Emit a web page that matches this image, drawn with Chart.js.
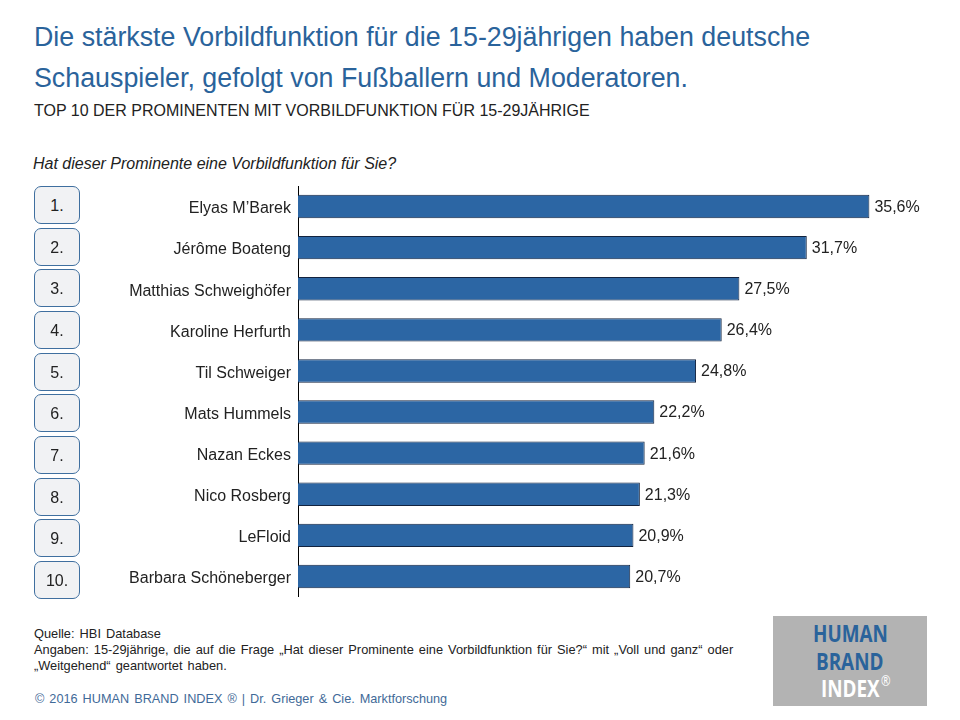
<!DOCTYPE html>
<html>
<head>
<meta charset="utf-8">
<script src="https://cdn.jsdelivr.net/npm/chart.js@4"></script>
<style>
  body { margin: 0; background: #fff; font-family: "Liberation Sans", sans-serif; }
  #page { position: relative; width: 960px; height: 720px; overflow: hidden; }
  #page div { position: absolute; white-space: nowrap; }
  #grafico { position: absolute; left: 0; top: 186px; }
  .titel { left: 34px; font-size: 26.8px; color: #2a639b; line-height: 30px; }
  .fuss { left: 34px; font-size: 12.8px; color: #222; line-height: 15px; word-spacing: 1.5px; }
  .rang { left: 34px; width: 44px; height: 36px; line-height: 37px; text-align: center; font-size: 16px; color: #222;
    background: #f1f2f4; border: 1px solid #3f6f9f; border-radius: 7px; }
  #logo { left: 773px; top: 616px; width: 154px; height: 90px; background: #b3b3b3; font-family: "Open Sans", sans-serif; font-weight: 700; font-size: 23px; }
  #logo div { line-height: 26px; transform: scaleX(0.82); transform-origin: left center; }
</style>
</head>
<body>
<div id="page">
  <div class="titel" style="top:22px">Die stärkste Vorbildfunktion für die 15-29jährigen haben deutsche</div>
  <div class="titel" style="top:63px">Schauspieler, gefolgt von Fußballern und Moderatoren.</div>
  <div style="left:34px;top:102px;font-size:16px;color:#222">TOP 10 DER PROMINENTEN  MIT VORBILDFUNKTION  FÜR 15-29JÄHRIGE</div>
  <div style="left:33px;top:155px;font-size:16px;font-style:italic;color:#222">Hat dieser Prominente eine Vorbildfunktion für Sie?</div>
  <canvas id="grafico" width="960" height="411"></canvas>
  <div class="fuss" style="top:626px">Quelle: HBI Database</div>
  <div class="fuss" style="top:642px">Angaben: 15-29jährige, die auf die Frage „Hat dieser Prominente eine Vorbildfunktion für Sie?“ mit „Voll und ganz“ oder</div>
  <div class="fuss" style="top:658px">„Weitgehend“ geantwortet haben.</div>
  <div style="left:35px;top:692px;font-size:12.7px;color:#3f6a98;word-spacing:1.5px">© 2016 HUMAN BRAND INDEX ® | Dr. Grieger &amp; Cie. Marktforschung</div>
  <div id="logo">
    <div style="left:40px;top:4px;color:#2a639b">HUMAN</div>
    <div style="left:43px;top:32px;color:#2a639b">BRAND</div>
    <div style="left:48px;top:59px;color:#fff">INDEX</div>
    <div style="left:108px;top:52px;color:#fff;font-size:14px;font-weight:400">®</div>
  </div>
</div>
<script>
// Werte
const namen = ['Elyas M’Barek', 'Jérôme Boateng', 'Matthias Schweighöfer', 'Karoline Herfurth', 'Til Schweiger',
  'Mats Hummels', 'Nazan Eckes', 'Nico Rosberg', 'LeFloid', 'Barbara Schöneberger'];
const werte = [35.6, 31.7, 27.5, 26.4, 24.8, 22.2, 21.6, 21.3, 20.9, 20.7];
const raenge = ['1.', '2.', '3.', '4.', '5.', '6.', '7.', '8.', '9.', '10.'];

// Rang-Kästchen links neben den Namen
raenge.forEach((r, i) => {
  const box = document.createElement('div');
  box.className = 'rang';
  box.textContent = r;
  box.style.top = (186 + i * 41.67) + 'px';
  document.getElementById('page').appendChild(box);
});

// Prozentwerte rechts neben den Balken
const wertLabels = {
  id: 'wertLabels',
  afterDatasetsDraw(chart) {
    const ctx = chart.ctx;
    ctx.save();
    ctx.font = '16px "Liberation Sans"';
    ctx.fillStyle = '#222';
    ctx.textBaseline = 'middle';
    chart.getDatasetMeta(0).data.forEach((bar, i) => {
      ctx.fillText(werte[i].toFixed(1).replace('.', ',') + '%', bar.x + 5, bar.y + 1);
    });
    ctx.restore();
  }
};

new Chart(document.getElementById('grafico'), {
  type: 'bar',
  data: {
    labels: namen,
    datasets: [{
      data: werte,
      backgroundColor: '#2c66a4',
      borderColor: '#12233f',
      borderWidth: 1,
      barPercentage: 0.57,
      categoryPercentage: 1
    }]
  },
  options: {
    indexAxis: 'y',
    responsive: false,
    animation: false,
    layout: { padding: { top: 0, bottom: 0, left: 0, right: 20 } },
    plugins: { legend: { display: false }, tooltip: { enabled: false } },
    scales: {
      x: { display: false, min: 0, max: 40 },
      y: {
        afterFit(scale) {
          scale.width = 298;
          scale.paddingTop = 0;
          scale.paddingBottom = 0;
        },
        grid: { display: false, drawTicks: false },
        border: { display: true, color: '#000', width: 1 },
        ticks: {
          color: '#222',
          // leere erste Zeile schiebt den Namen etwas nach unten
          callback(value) { return ['', namen[value]]; },
          font: { family: '"Liberation Sans"', size: 16, lineHeight: 0.3 },
          padding: 7,
          autoSkip: false
        }
      }
    }
  },
  plugins: [wertLabels]
});
</script>
</body>
</html>
